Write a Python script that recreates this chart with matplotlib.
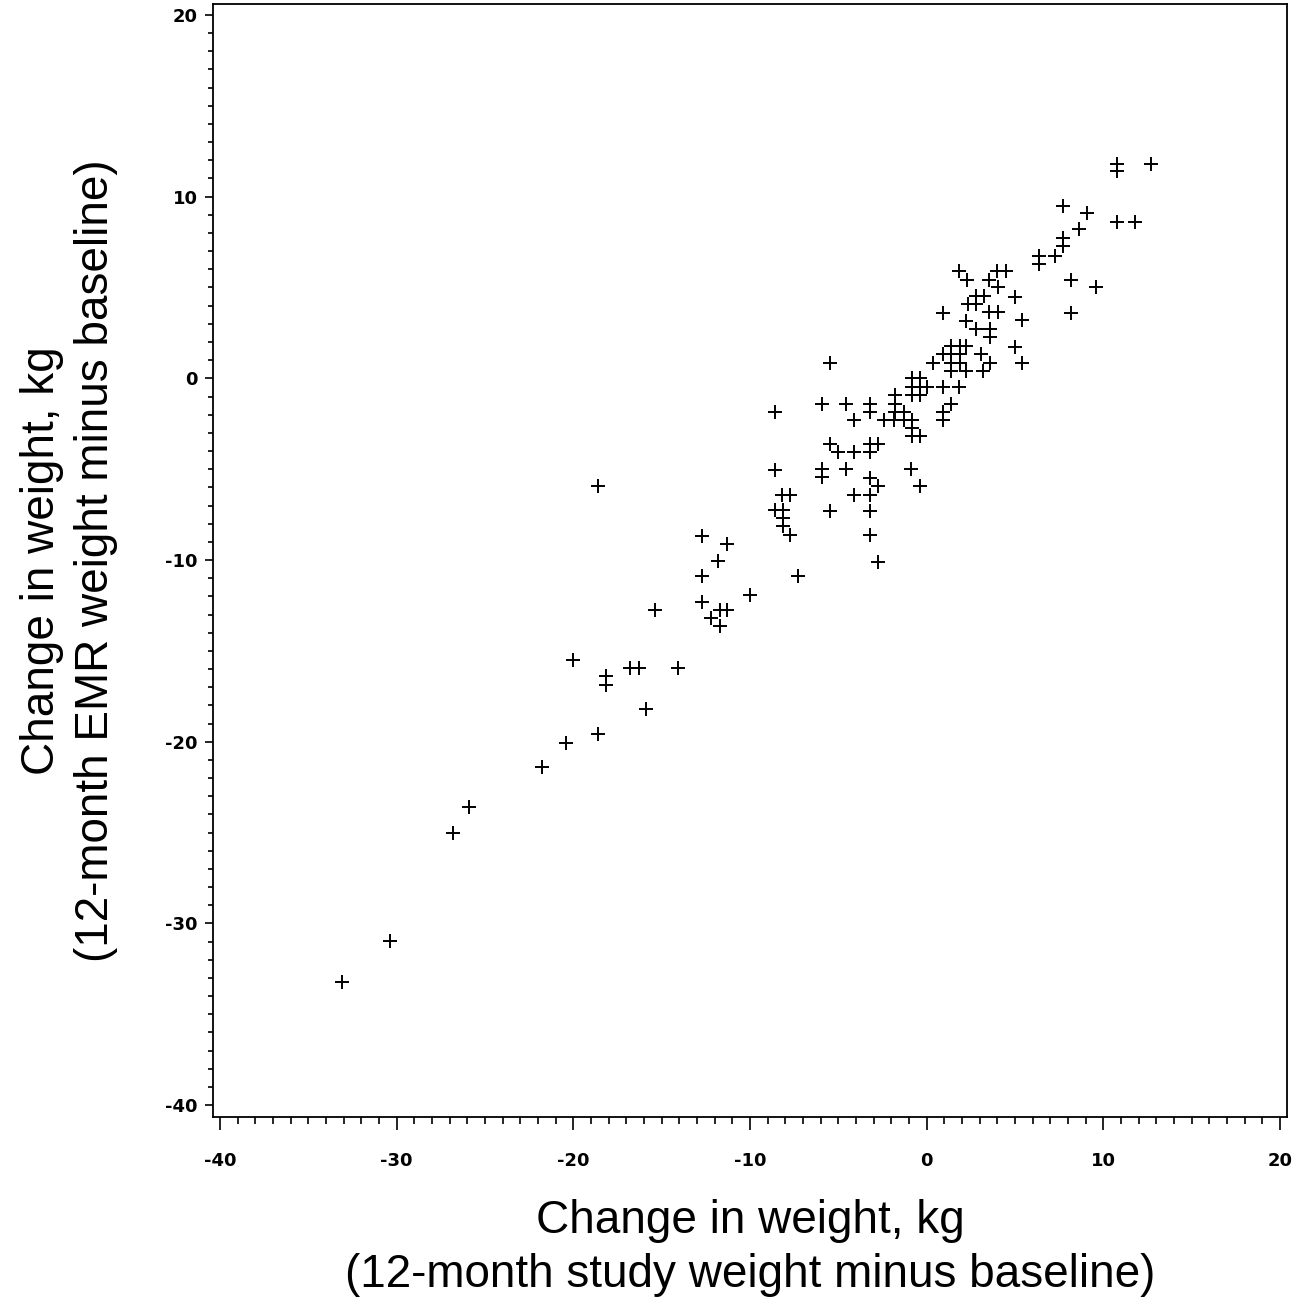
import numpy as np
import matplotlib
matplotlib.use("Agg")
import matplotlib.pyplot as plt
from matplotlib.ticker import MultipleLocator

# Change in weight (kg): study weight (x) vs EMR weight (y)
study_change = [
    10.8, 10.8, 12.7, 7.7, 9.1, 10.8, 11.8, 8.6, 7.7, 7.7,
    6.35, 6.35, 7.25, 8.15, 9.6, 8.15, 5.0, 5.4, 5.0, 5.4,
    1.85, 2.3, 3.55, 4.0, 4.5, 4.05, 2.8, 3.25, 2.35, 2.8,
    0.9, 3.55, 4.05, 2.25, 2.8, 3.6, 3.6, 1.4, 1.9, 2.25,
    0.95, 1.4, 1.9, 0.35, 1.4, 1.9, 1.4, 2.25, 3.1, 3.2, 3.6,
    -0.85, -0.4, -0.85, -0.4, 0.0, 0.9, 1.85, -0.85, -0.4, -1.8,
    -1.8, -1.8, -2.4, -1.85, -1.3, -1.3, -0.85, -0.85, -0.85, -0.4,
    0.9, 0.9, 1.4, -0.9, -0.4,
    -8.6, -5.9, -4.55, -4.1, -3.2, -3.2, -5.45, -5.0, -4.1, -3.2,
    -3.2, -2.75, -8.6, -5.95, -5.95, -4.55, -3.2, -2.75, -3.2, -4.1,
    -8.2, -7.75, -8.6, -8.15, -8.15, -8.15, -7.75, -5.45, -3.2, -3.2,
    -2.75, -7.3, -5.45,
    -12.7, -11.3, -11.8, -12.7, -10.0, -12.7, -11.7, -11.3, -12.2, -11.7,
    -15.4, -20.0, -18.15, -18.15, -16.8, -16.3, -14.1, -15.9, -18.6, -20.4,
    -21.8, -25.9, -26.8, -30.4, -33.1, -18.6,
]
emr_change = [
    11.8, 11.4, 11.8, 9.5, 9.1, 8.6, 8.6, 8.2, 7.7, 7.3,
    6.75, 6.3, 6.75, 5.4, 5.0, 3.6, 4.5, 3.2, 1.75, 0.85,
    5.9, 5.4, 5.4, 5.9, 5.9, 5.0, 4.55, 4.55, 4.1, 4.1,
    3.6, 3.65, 3.65, 3.15, 2.7, 2.7, 2.25, 1.8, 1.8, 1.8,
    1.35, 1.35, 1.35, 0.85, 0.85, 0.85, 0.4, 0.4, 1.35, 0.4, 0.85,
    0.0, 0.0, -0.45, -0.45, -0.45, -0.45, -0.45, -0.9, -0.9, -0.9,
    -1.4, -1.85, -2.3, -2.3, -1.85, -2.3, -2.3, -2.75, -3.2, -3.2,
    -1.85, -2.3, -1.4, -5.0, -5.9,
    -1.85, -1.4, -1.4, -2.3, -1.4, -1.85, -3.6, -4.05, -4.05, -3.6,
    -4.05, -3.6, -5.05, -5.0, -5.45, -5.0, -5.5, -5.95, -6.4, -6.4,
    -6.4, -6.4, -7.25, -7.25, -7.7, -8.15, -8.6, -7.3, -7.3, -8.6,
    -10.1, -10.9, 0.85,
    -8.65, -9.1, -10.05, -10.9, -11.9, -12.3, -12.75, -12.75, -13.2, -13.65,
    -12.75, -15.5, -16.4, -16.9, -15.95, -15.95, -15.95, -18.2, -19.6, -20.05,
    -21.4, -23.6, -25.0, -30.95, -33.2, -5.9,
]

x_ticks = [-40, -30, -20, -10, 0, 10, 20]
y_ticks = [-40, -30, -20, -10, 0, 10, 20]

plt.rcParams['axes.unicode_minus'] = False

fig = plt.figure(figsize=(13.1, 13.0), dpi=100)
ax = fig.add_axes([0.1626, 0.1408, 0.8198, 0.8561])

ax.plot(study_change, emr_change, linestyle="none", marker="+",
        markersize=10, markeredgewidth=1.4, color="black")

ax.set_xlim(-40.4, 20.4)
ax.set_ylim(-40.65, 20.6)
ax.set_xticks(x_ticks)
ax.set_yticks(y_ticks)
ax.xaxis.set_minor_locator(MultipleLocator(1))
ax.yaxis.set_minor_locator(MultipleLocator(1))

for s in ax.spines.values():
    s.set_linewidth(1.3)

ax.tick_params(axis="x", which="major", length=9.5, width=1.2, pad=16)
ax.tick_params(axis="x", which="minor", length=5, width=1.2)
ax.tick_params(axis="y", which="major", length=6, width=1.2, pad=5)
ax.tick_params(axis="y", which="minor", length=3.6, width=1.2)
for lab in ax.get_xticklabels() + ax.get_yticklabels():
    lab.set_fontweight("bold")
    lab.set_fontsize(13)
    lab.set_family("DejaVu Sans")

ax.set_xlabel("Change in weight, kg\n(12-month study weight minus baseline)",
              fontsize=33, family="Liberation Sans", linespacing=1.3)
ax.xaxis.set_label_coords(0.5, -0.0735)
ax.set_ylabel("Change in weight, kg\n(12-month EMR weight minus baseline)",
              fontsize=33, family="Liberation Sans", linespacing=1.3)
ax.yaxis.set_label_coords(-0.088, 0.5)

fig.savefig("out.png", dpi=100)
